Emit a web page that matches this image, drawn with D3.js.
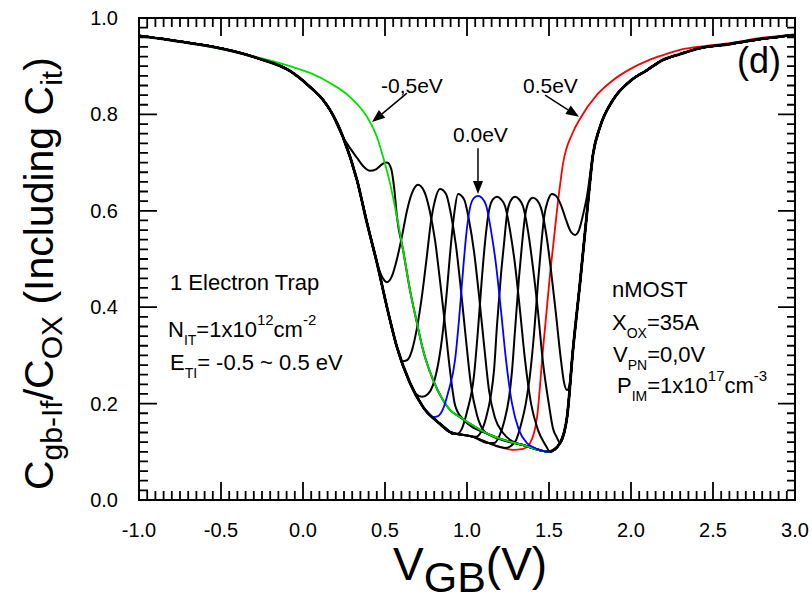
<!DOCTYPE html>
<html>
<head>
<meta charset="utf-8">
<script src="https://cdn.jsdelivr.net/npm/d3@7"></script>
<style>
  body { margin: 0; background: #fff; }
  svg { display: block; font-family: "Liberation Sans", Arial, sans-serif; }
</style>
</head>
<body>
<div id="chart"></div>
<script>
// ---- data ----
const xTicks = [-1.0, -0.5, 0.0, 0.5, 1.0, 1.5, 2.0, 2.5, 3.0];
const yTicks = [0.0, 0.2, 0.4, 0.6, 0.8, 1.0];

// trap levels E_TI (eV)
const trapLevels = [-0.5, -0.4, -0.3, -0.2, -0.1, 0.0, 0.1, 0.2, 0.3, 0.4, 0.5];

// trap-free curve [V_GB, C/Cox]  (the red curve / left envelope)
const baseCurve = [
  [-1.000, 0.963], [-0.689, 0.948], [-0.488, 0.936], [-0.280, 0.917], [-0.079, 0.890],
  [0.043, 0.857], [0.122, 0.830], [0.165, 0.809], [0.244, 0.753], [0.329, 0.664],
  [0.390, 0.575], [0.451, 0.492], [0.512, 0.400], [0.573, 0.317], [0.652, 0.243],
  [0.732, 0.193], [0.835, 0.158], [0.896, 0.141], [1.037, 0.131], [1.201, 0.110],
  [1.280, 0.104], [1.341, 0.106], [1.384, 0.118], [1.427, 0.172], [1.463, 0.311],
  [1.506, 0.467], [1.549, 0.602], [1.585, 0.697], [1.646, 0.763], [1.689, 0.791],
  [1.793, 0.841], [1.890, 0.871], [1.994, 0.894], [2.098, 0.911], [2.195, 0.923],
  [2.299, 0.934], [2.402, 0.940], [2.604, 0.948], [2.805, 0.959], [3.000, 0.965]
];

// curve with the trap filled (the green curve / right envelope)
const shiftedCurve = [
  [-1.000, 0.963], [-0.689, 0.948], [-0.384, 0.927], [-0.079, 0.900], [0.043, 0.886],
  [0.165, 0.865], [0.287, 0.836], [0.390, 0.795], [0.451, 0.753], [0.488, 0.712],
  [0.530, 0.658], [0.573, 0.587], [0.610, 0.519], [0.652, 0.436], [0.695, 0.367],
  [0.732, 0.311], [0.793, 0.249], [0.854, 0.207], [0.896, 0.187], [0.957, 0.172],
  [1.140, 0.135], [1.341, 0.114], [1.506, 0.100], [1.567, 0.118], [1.610, 0.172],
  [1.646, 0.311], [1.689, 0.450], [1.732, 0.598], [1.768, 0.716], [1.811, 0.774],
  [1.890, 0.830], [1.994, 0.869], [2.098, 0.892], [2.195, 0.913], [2.299, 0.925],
  [2.402, 0.936], [2.604, 0.946], [2.805, 0.957], [3.000, 0.965]
];

// the part of each curve around its trap peak
const peakM04 = [[0.287, 0.730], [0.329, 0.710], [0.366, 0.693], [0.409, 0.683], [0.445, 0.686],
  [0.488, 0.698], [0.512, 0.700], [0.537, 0.688], [0.555, 0.650]];
const peakM03 = [[0.482, 0.463], [0.512, 0.452], [0.543, 0.465], [0.573, 0.500], [0.604, 0.548],
  [0.634, 0.600], [0.665, 0.637], [0.701, 0.654], [0.738, 0.641], [0.774, 0.598], [0.805, 0.539],
  [0.835, 0.456], [0.866, 0.363], [0.896, 0.270], [0.927, 0.197], [0.970, 0.170]];
const peakM02 = [[0.604, 0.288], [0.634, 0.290], [0.665, 0.311], [0.695, 0.357], [0.726, 0.425],
  [0.756, 0.508], [0.780, 0.577], [0.805, 0.622], [0.835, 0.645], [0.872, 0.635], [0.902, 0.593],
  [0.933, 0.527], [0.963, 0.436], [0.994, 0.332], [1.024, 0.239], [1.061, 0.176], [1.104, 0.143]];
const peakM01 = [[0.689, 0.220], [0.726, 0.214], [0.762, 0.220], [0.793, 0.239], [0.823, 0.280],
  [0.854, 0.353], [0.878, 0.436], [0.896, 0.508], [0.921, 0.591], [0.945, 0.635], [0.982, 0.624],
  [1.012, 0.581], [1.043, 0.515], [1.073, 0.425], [1.104, 0.322], [1.134, 0.228], [1.171, 0.170],
  [1.220, 0.139], [1.274, 0.122]];
const peakP00 = [[0.762, 0.178], [0.793, 0.172], [0.823, 0.174], [0.854, 0.189], [0.884, 0.222],
  [0.927, 0.290], [0.951, 0.373], [0.976, 0.477], [0.994, 0.546], [1.018, 0.606], [1.043, 0.627],
  [1.067, 0.631], [1.091, 0.627], [1.116, 0.612], [1.146, 0.560], [1.177, 0.488], [1.207, 0.394],
  [1.238, 0.290], [1.274, 0.201], [1.317, 0.145], [1.366, 0.118], [1.402, 0.110]];
const peakP01 = [[0.909, 0.137], [0.939, 0.137], [0.970, 0.149], [1.000, 0.183], [1.043, 0.259],
  [1.067, 0.353], [1.091, 0.461], [1.110, 0.535], [1.134, 0.600], [1.159, 0.624], [1.183, 0.629],
  [1.207, 0.624], [1.232, 0.610], [1.262, 0.560], [1.293, 0.488], [1.323, 0.394], [1.354, 0.290],
  [1.390, 0.201], [1.433, 0.145], [1.482, 0.112]];
const peakP02 = [[1.018, 0.133], [1.055, 0.131], [1.085, 0.141], [1.116, 0.170], [1.146, 0.218],
  [1.165, 0.270], [1.183, 0.363], [1.207, 0.467], [1.226, 0.533], [1.244, 0.593], [1.268, 0.622],
  [1.293, 0.629], [1.317, 0.624], [1.341, 0.610], [1.372, 0.558], [1.402, 0.483], [1.433, 0.390],
  [1.463, 0.286], [1.500, 0.197], [1.524, 0.149], [1.549, 0.129]];
const peakP03 = [[1.128, 0.118], [1.165, 0.118], [1.195, 0.131], [1.226, 0.162], [1.256, 0.212],
  [1.274, 0.266], [1.293, 0.353], [1.317, 0.461], [1.335, 0.529], [1.354, 0.589], [1.378, 0.620],
  [1.402, 0.627], [1.427, 0.622], [1.451, 0.606], [1.482, 0.554], [1.512, 0.477], [1.543, 0.384],
  [1.573, 0.290], [1.591, 0.245], [1.610, 0.228], [1.628, 0.245]];
const peakP04 = [[1.232, 0.108], [1.268, 0.112], [1.299, 0.124], [1.329, 0.156], [1.360, 0.203],
  [1.384, 0.259], [1.409, 0.346], [1.433, 0.452], [1.451, 0.523], [1.470, 0.587], [1.494, 0.622],
  [1.518, 0.635], [1.543, 0.631], [1.573, 0.612], [1.604, 0.581], [1.634, 0.556], [1.659, 0.550],
  [1.683, 0.560], [1.707, 0.591], [1.732, 0.631]];

// where each peak leaves the trap-free curve and joins the filled one (V)
const peakSegments = [null, peakM04, peakM03, peakM02, peakM01, peakP00, peakP01, peakP02, peakP03, peakP04, null];
const leaveBase = [null, 0.25, 0.46, 0.60, 0.66, 0.74, 0.90, 1.00, 1.10, 1.21, null];
const joinShifted = [null, 0.57, 1.00, 1.12, 1.30, 1.45, 1.50, 1.56, 1.64, 1.76, null];

// ---- chart ----
const W = 812, H = 596;
const plot = { left: 139, right: 795, top: 18, bottom: 500 };

const svg = d3.select('#chart').append('svg').attr('width', W).attr('height', H);

const x = d3.scaleLinear().domain([-1, 3]).range([plot.left, plot.right]);
const y = d3.scaleLinear().domain([0, 1]).range([plot.bottom, plot.top]);

const line = d3.line().x(d => x(d[0])).y(d => y(d[1])).curve(d3.curveMonotoneX);

svg.append('clipPath').attr('id', 'clip').append('rect')
  .attr('x', plot.left).attr('y', plot.top)
  .attr('width', plot.right - plot.left).attr('height', plot.bottom - plot.top);
const g = svg.append('g').attr('clip-path', 'url(#clip)');

const curves = trapLevels.map((e, i) => {
  let pts;
  if (i === 0) pts = shiftedCurve;
  else if (i === trapLevels.length - 1) pts = baseCurve;
  else pts = baseCurve.filter(d => d[0] <= leaveBase[i])
    .concat(peakSegments[i])
    .concat(shiftedCurve.filter(d => d[0] >= joinShifted[i]));
  let color = '#000';
  if (e === -0.5) color = '#00e000';
  if (e === 0.5) color = '#ff0000';
  if (e === 0.0) color = '#0000ff';
  return { e, pts, color };
});

// red under the black curves, green and blue over them
const order = [10, 1, 2, 3, 4, 6, 7, 8, 9, 0, 5];
order.forEach(i => {
  const c = curves[i];
  g.append('path').attr('d', line(c.pts)).attr('fill', 'none')
    .attr('stroke', c.color).attr('stroke-width', c.color === '#000' ? 2 : 1.8);
});

// outer envelope looks heavier where many curves overlap
g.append('path').attr('d', line(baseCurve.filter(d => d[0] <= 0.9)))
  .attr('fill', 'none').attr('stroke', '#000').attr('stroke-width', 2.8);
g.append('path').attr('d', line(shiftedCurve.filter(d => d[0] >= 1.5)))
  .attr('fill', 'none').attr('stroke', '#000').attr('stroke-width', 2.8);

// ---- frame and inward ticks on all four sides ----
svg.append('rect')
  .attr('x', plot.left).attr('y', plot.top)
  .attr('width', plot.right - plot.left).attr('height', plot.bottom - plot.top)
  .attr('fill', 'none').attr('stroke', '#000').attr('stroke-width', 2);

const minorX = x.ticks(80);
const minorY = y.ticks(50);
let tickD = '';
minorX.forEach(v => {
  tickD += `M${x(v)},${plot.bottom}V${plot.bottom - 9}M${x(v)},${plot.top}V${plot.top + 9}`;
});
xTicks.forEach(v => {
  tickD += `M${x(v)},${plot.bottom}V${plot.bottom - 18}M${x(v)},${plot.top}V${plot.top + 18}`;
});
minorY.forEach(v => {
  tickD += `M${plot.left},${y(v)}H${plot.left + 9}M${plot.right},${y(v)}H${plot.right - 8}`;
});
yTicks.forEach(v => {
  tickD += `M${plot.left},${y(v)}H${plot.left + 18}M${plot.right},${y(v)}H${plot.right - 17}`;
});
svg.append('path').attr('d', tickD).attr('fill', 'none').attr('stroke', '#000').attr('stroke-width', 1.8);

// ---- tick labels ----
const fmt = d => d3.format('.1f')(d).replace('\u2212', '-');
svg.append('g').selectAll('text').data(xTicks).join('text')
  .attr('x', d => x(d)).attr('y', plot.bottom + 37)
  .attr('text-anchor', 'middle').attr('font-size', 20)
  .text(fmt);
svg.append('g').selectAll('text').data(yTicks).join('text')
  .attr('x', plot.left - 21).attr('y', d => y(d)).attr('dy', '0.35em')
  .attr('text-anchor', 'end').attr('font-size', 20)
  .text(fmt);

// ---- axis titles ----
const xt = svg.append('text').attr('x', 393).attr('y', 580).attr('font-size', 46);
xt.append('tspan').text('V');
xt.append('tspan').attr('font-size', 43).attr('dy', 12).text('GB');
xt.append('tspan').attr('dy', -12).text('(V)');

const yt = svg.append('text').attr('transform', 'translate(53,490) rotate(-90)').attr('font-size', 41);
yt.append('tspan').text('C');
yt.append('tspan').attr('font-size', 30).attr('dy', 9).text('gb-If');
yt.append('tspan').attr('dy', -9).text('/C');
yt.append('tspan').attr('font-size', 30).attr('dy', 9).text('OX');
yt.append('tspan').attr('dy', -9).text(' (Including C');
yt.append('tspan').attr('font-size', 30).attr('dy', 9).text('it');
yt.append('tspan').attr('dy', -9).text(')');

// ---- annotations ----
svg.append('text').attr('x', 737).attr('y', 73).attr('font-size', 36).text('(d)');

const labelFont = 21;
svg.append('text').attr('x', 381).attr('y', 93).attr('font-size', labelFont).text('-0,5eV');
svg.append('text').attr('x', 453).attr('y', 142).attr('font-size', labelFont).text('0.0eV');
svg.append('text').attr('x', 523).attr('y', 93).attr('font-size', labelFont).text('0.5eV');

const arrows = [
  { from: [0.634, 0.844], to: [0.421, 0.784] },
  { from: [1.067, 0.730], to: [1.067, 0.635] },
  { from: [1.476, 0.840], to: [1.683, 0.795] }
];
arrows.forEach(a => {
  const x0 = x(a.from[0]), y0 = y(a.from[1]), x1 = x(a.to[0]), y1 = y(a.to[1]);
  const ang = Math.atan2(y1 - y0, x1 - x0);
  const len = 13, half = 5;
  const bx = x1 - len * Math.cos(ang), by = y1 - len * Math.sin(ang);
  svg.append('line').attr('x1', x0).attr('y1', y0).attr('x2', bx).attr('y2', by)
    .attr('stroke', '#000').attr('stroke-width', 1.5);
  svg.append('path')
    .attr('d', `M${x1},${y1}L${bx - half * Math.sin(ang)},${by + half * Math.cos(ang)}L${bx + half * Math.sin(ang)},${by - half * Math.cos(ang)}Z`)
    .attr('fill', '#000');
});

const fs = 22, sub = 14, sup = 15;
function richLine(xp, yp, parts) {
  const t = svg.append('text').attr('x', xp).attr('y', yp).attr('font-size', fs);
  let shift = 0;
  parts.forEach(p => {
    const target = p.sub ? 8 : p.sup ? -12 : 0;
    t.append('tspan')
      .attr('font-size', p.sub ? sub : p.sup ? sup : fs)
      .attr('dy', target - shift)
      .text(p.t);
    shift = target;
  });
}

richLine(170, 290, [{ t: '1 Electron Trap' }]);
richLine(168, 337, [{ t: 'N' }, { t: 'IT', sub: true }, { t: '=1x10' }, { t: '12', sup: true }, { t: 'cm' }, { t: '-2', sup: true }]);
richLine(170, 370, [{ t: 'E' }, { t: 'TI', sub: true }, { t: '= -0.5 ~ 0.5 eV' }]);

richLine(612, 297, [{ t: 'nMOST' }]);
richLine(612, 330, [{ t: 'X' }, { t: 'OX', sub: true }, { t: '=35A' }]);
richLine(613, 362, [{ t: 'V' }, { t: 'PN', sub: true }, { t: '=0,0V' }]);
richLine(617, 393, [{ t: 'P' }, { t: 'IM', sub: true }, { t: '=1x10' }, { t: '17', sup: true }, { t: 'cm' }, { t: '-3', sup: true }]);
</script>
</body>
</html>
